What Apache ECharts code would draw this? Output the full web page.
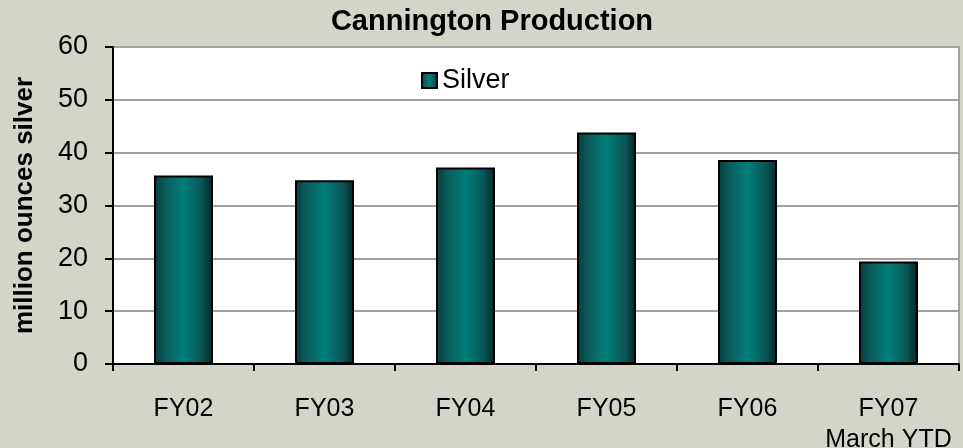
<!DOCTYPE html>
<html>
<head>
<meta charset="utf-8">
<script src="https://cdn.jsdelivr.net/npm/echarts@6/dist/echarts.min.js"></script>
<style>
html,body{margin:0;padding:0;background:#d4d4c8;}
#c{width:963px;height:448px;}
</style>
</head>
<body>
<div id="c"></div>
<script>
const categories = ['FY02', 'FY03', 'FY04', 'FY05', 'FY06', 'FY07\nMarch YTD'];
const silver = [35.7, 34.8, 37.2, 43.8, 38.6, 19.4];
const yTicks = { min: 0, max: 60, interval: 10 };
const titleText = 'Cannington Production';
const yName = 'million ounces silver';
const seriesName = 'Silver';

const barGrad = new echarts.graphic.LinearGradient(0, 0, 1, 0, [
  { offset: 0, color: '#073b3b' },
  { offset: 0.18, color: '#0b5a5a' },
  { offset: 0.5, color: '#007e7a' },
  { offset: 0.82, color: '#0a5454' },
  { offset: 1, color: '#032626' }
]);

const chart = echarts.init(document.getElementById('c'), null, { renderer: 'canvas' });
chart.setOption({
  backgroundColor: '#d4d4c8',
  animation: false,
  title: {
    text: titleText,
    left: 487, top: 2, textAlign: 'center',
    textStyle: { fontFamily: 'Liberation Sans', fontWeight: 'bold', fontSize: 29, color: '#000' }
  },
  legend: {
    data: [seriesName],
    left: 416, top: 62,
    itemWidth: 15, itemHeight: 15, itemGap: 9,
    icon: 'rect',
    textStyle: { fontFamily: 'Liberation Sans', fontSize: 27, color: '#000' },
    itemStyle: { color: barGrad, borderColor: '#000', borderWidth: 2 }
  },
  grid: {
    left: 113, right: 4, top: 47, bottom: 84,
    outerBoundsMode: 'none',
    containLabel: false,
    show: true, backgroundColor: '#ffffff', borderColor: '#a0a0a0', borderWidth: 2
  },
  xAxis: {
    type: 'category',
    data: categories,
    boundaryGap: true,
    axisLine: { lineStyle: { color: '#000', width: 2 } },
    axisTick: { show: true, length: 7, lineStyle: { color: '#000', width: 2 } },
    axisLabel: { margin: 30, fontFamily: 'Liberation Sans', fontSize: 25, color: '#000', lineHeight: 31, interval: 0 }
  },
  yAxis: {
    type: 'value',
    min: yTicks.min, max: yTicks.max, interval: yTicks.interval,
    name: yName,
    nameLocation: 'middle',
    nameRotate: 90,
    nameGap: 75,
    nameTextStyle: { fontFamily: 'Liberation Sans', fontWeight: 'bold', fontSize: 26, color: '#000' },
    axisLine: { show: true, lineStyle: { color: '#000', width: 2 } },
    axisTick: { show: true, length: 8, lineStyle: { color: '#000', width: 2 } },
    axisLabel: { margin: 25, fontFamily: 'Liberation Sans', fontSize: 27, color: '#000' },
    splitLine: { lineStyle: { color: '#a0a0a0', width: 2 } }
  },
  series: [{
    name: seriesName,
    type: 'bar',
    data: silver,
    barWidth: 59,
    itemStyle: { color: barGrad, borderColor: '#000', borderWidth: 2 }
  }]
});
</script>
</body>
</html>
